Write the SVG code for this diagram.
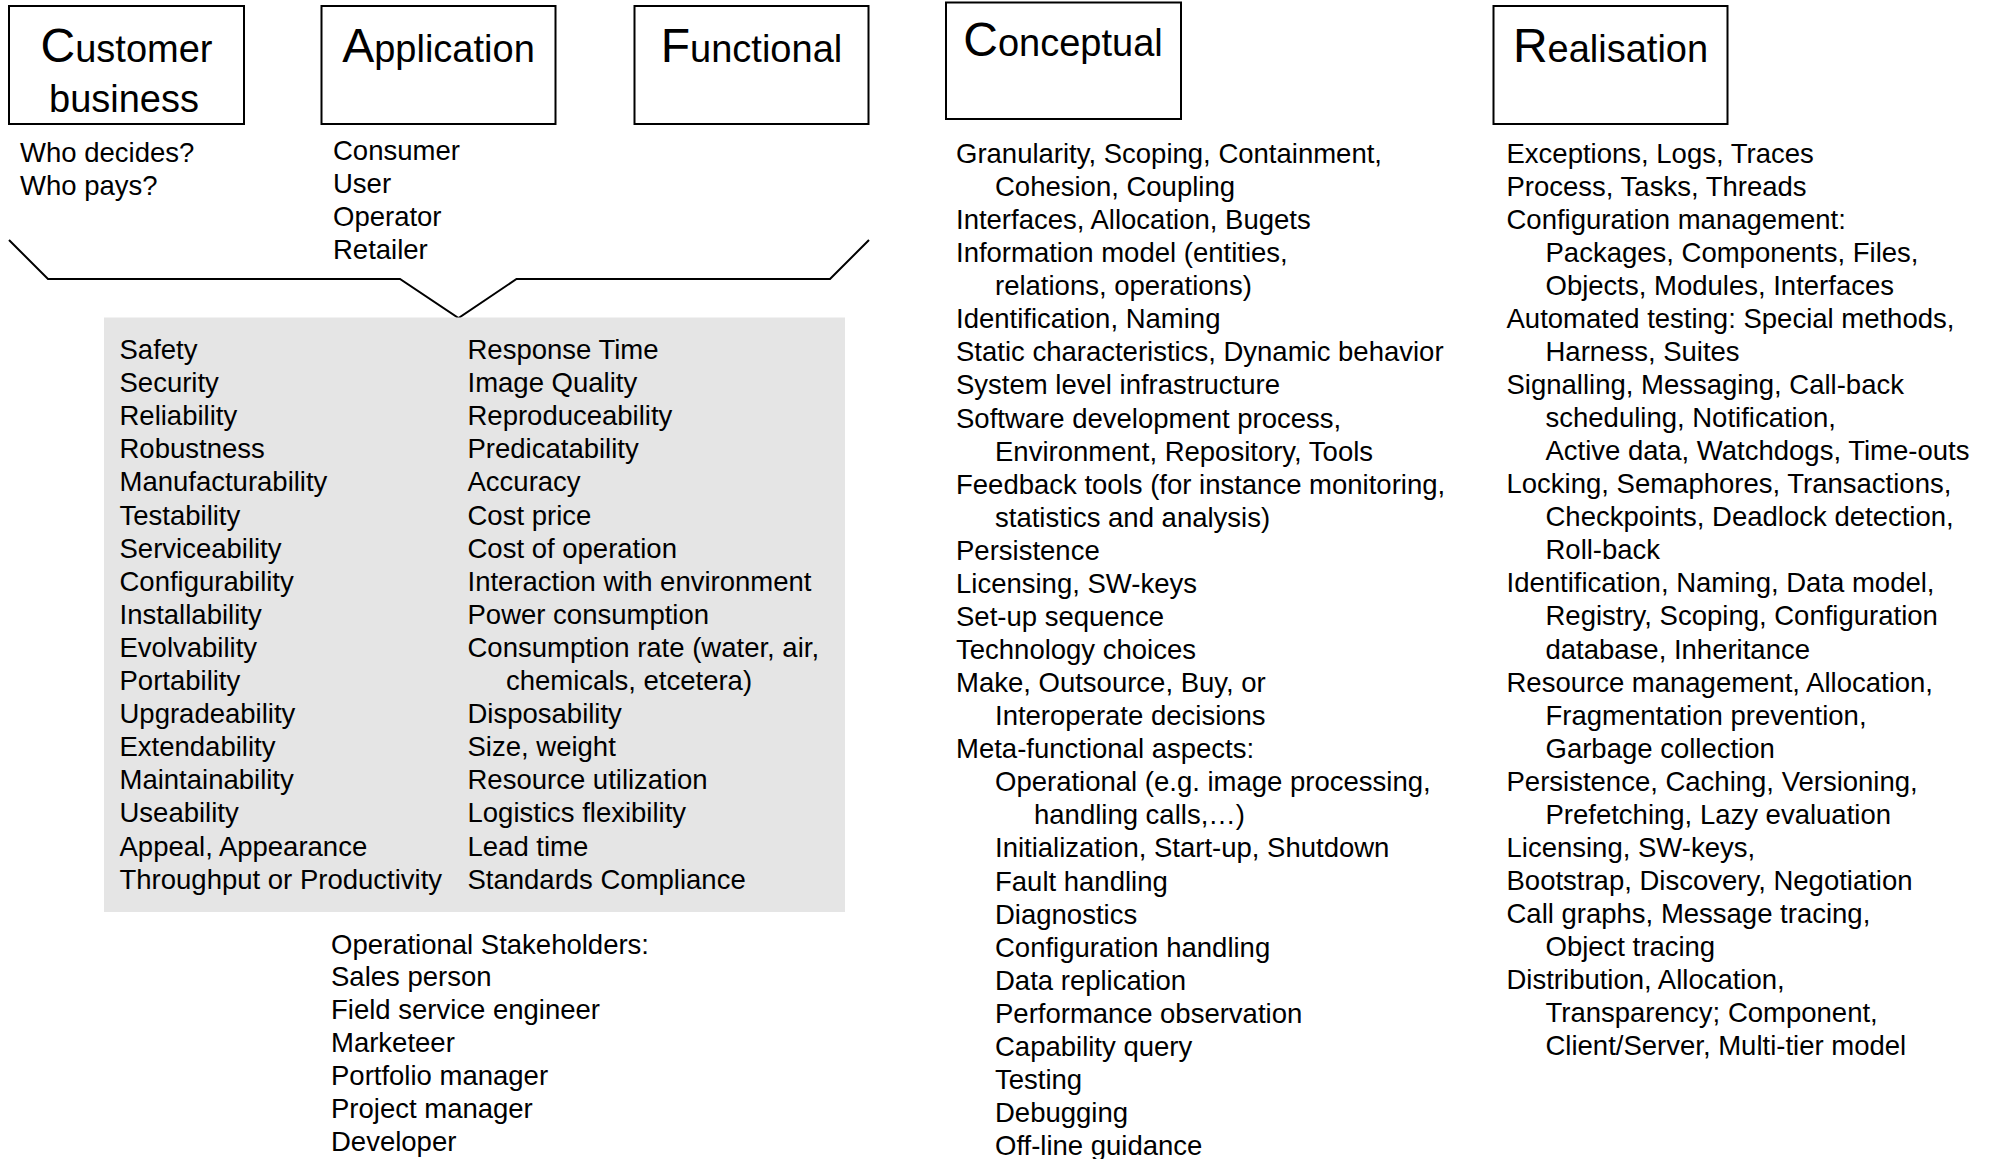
<svg xmlns="http://www.w3.org/2000/svg" width="1991" height="1159" viewBox="0 0 1991 1159">
<style>
.box{fill:#fff;stroke:#000;stroke-width:2}
.title{font-family:"Liberation Sans",Arial,sans-serif;font-size:38px;fill:#000;text-anchor:middle}
.big{font-size:48px}
.t{font-family:"Liberation Sans",Arial,sans-serif;font-size:27.5px;fill:#000}
.conn{fill:none;stroke:#000;stroke-width:2}
</style>
<rect width="1991" height="1159" fill="#fff"/>
<g id="connectors">
<polyline class="conn" points="9,240 48,279 400,279 458.5,318 516.5,279 830,279 869,240"/>
</g>
<g id="customer-business">
<rect class="box" x="9" y="6" width="235" height="118"/>
<text class="title" x="126.5" y="62.3"><tspan class="big">C</tspan>ustomer</text>
<text class="title" x="124" y="111.7">business</text>
<text class="t" x="20" y="161.5">Who decides?</text>
<text class="t" x="20" y="194.5">Who pays?</text>
</g>
<g id="application">
<rect class="box" x="321.5" y="6" width="234" height="118"/>
<text class="title" x="438.5" y="62.3"><tspan class="big">A</tspan>pplication</text>
<text class="t" x="333" y="160">Consumer</text>
<text class="t" x="333" y="193">User</text>
<text class="t" x="333" y="226">Operator</text>
<text class="t" x="333" y="259">Retailer</text>
</g>
<g id="functional">
<rect class="box" x="634.5" y="6" width="234" height="118"/>
<text class="title" x="751.5" y="62.3"><tspan class="big">F</tspan>unctional</text>
</g>
<g id="qualities">
<rect x="104" y="317.5" width="741" height="594.5" fill="#e5e5e5"/>
<text class="t" x="119.5" y="359">Safety</text>
<text class="t" x="119.5" y="392.1">Security</text>
<text class="t" x="119.5" y="425.2">Reliability</text>
<text class="t" x="119.5" y="458.3">Robustness</text>
<text class="t" x="119.5" y="491.4">Manufacturability</text>
<text class="t" x="119.5" y="524.5">Testability</text>
<text class="t" x="119.5" y="557.6">Serviceability</text>
<text class="t" x="119.5" y="590.7">Configurability</text>
<text class="t" x="119.5" y="623.8">Installability</text>
<text class="t" x="119.5" y="656.9">Evolvability</text>
<text class="t" x="119.5" y="690">Portability</text>
<text class="t" x="119.5" y="723.1">Upgradeability</text>
<text class="t" x="119.5" y="756.2">Extendability</text>
<text class="t" x="119.5" y="789.3">Maintainability</text>
<text class="t" x="119.5" y="822.4">Useability</text>
<text class="t" x="119.5" y="855.5">Appeal, Appearance</text>
<text class="t" x="119.5" y="888.6">Throughput or Productivity</text>
<text class="t" x="467.5" y="359">Response Time</text>
<text class="t" x="467.5" y="392.1">Image Quality</text>
<text class="t" x="467.5" y="425.2">Reproduceability</text>
<text class="t" x="467.5" y="458.3">Predicatability</text>
<text class="t" x="467.5" y="491.4">Accuracy</text>
<text class="t" x="467.5" y="524.5">Cost price</text>
<text class="t" x="467.5" y="557.6">Cost of operation</text>
<text class="t" x="467.5" y="590.7">Interaction with environment</text>
<text class="t" x="467.5" y="623.8">Power consumption</text>
<text class="t" x="467.5" y="656.9">Consumption rate (water, air,</text>
<text class="t" x="506" y="690">chemicals, etcetera)</text>
<text class="t" x="467.5" y="723.1">Disposability</text>
<text class="t" x="467.5" y="756.2">Size, weight</text>
<text class="t" x="467.5" y="789.3">Resource utilization</text>
<text class="t" x="467.5" y="822.4">Logistics flexibility</text>
<text class="t" x="467.5" y="855.5">Lead time</text>
<text class="t" x="467.5" y="888.6">Standards Compliance</text>
</g>
<g id="operational-stakeholders">
<text class="t" x="331" y="953.5">Operational Stakeholders:</text>
<text class="t" x="331" y="986.4">Sales person</text>
<text class="t" x="331" y="1019.3">Field service engineer</text>
<text class="t" x="331" y="1052.2">Marketeer</text>
<text class="t" x="331" y="1085.1">Portfolio manager</text>
<text class="t" x="331" y="1118">Project manager</text>
<text class="t" x="331" y="1150.9">Developer</text>
</g>
<g id="conceptual">
<rect class="box" x="946" y="2.5" width="235" height="116.5"/>
<text class="title" x="1063" y="56"><tspan class="big">C</tspan>onceptual</text>
<text class="t" x="956" y="163">Granularity, Scoping, Containment,</text>
<text class="t" x="995" y="196.07">Cohesion, Coupling</text>
<text class="t" x="956" y="229.14">Interfaces, Allocation, Bugets</text>
<text class="t" x="956" y="262.21">Information model (entities,</text>
<text class="t" x="995" y="295.28">relations, operations)</text>
<text class="t" x="956" y="328.35">Identification, Naming</text>
<text class="t" x="956" y="361.42">Static characteristics, Dynamic behavior</text>
<text class="t" x="956" y="394.49">System level infrastructure</text>
<text class="t" x="956" y="427.56">Software development process,</text>
<text class="t" x="995" y="460.63">Environment, Repository, Tools</text>
<text class="t" x="956" y="493.7">Feedback tools (for instance monitoring,</text>
<text class="t" x="995" y="526.77">statistics and analysis)</text>
<text class="t" x="956" y="559.84">Persistence</text>
<text class="t" x="956" y="592.91">Licensing, SW-keys</text>
<text class="t" x="956" y="625.98">Set-up sequence</text>
<text class="t" x="956" y="659.05">Technology choices</text>
<text class="t" x="956" y="692.12">Make, Outsource, Buy, or</text>
<text class="t" x="995" y="725.19">Interoperate decisions</text>
<text class="t" x="956" y="758.26">Meta-functional aspects:</text>
<text class="t" x="995" y="791.33">Operational (e.g. image processing,</text>
<text class="t" x="1034" y="824.4">handling calls,…)</text>
<text class="t" x="995" y="857.47">Initialization, Start-up, Shutdown</text>
<text class="t" x="995" y="890.54">Fault handling</text>
<text class="t" x="995" y="923.61">Diagnostics</text>
<text class="t" x="995" y="956.68">Configuration handling</text>
<text class="t" x="995" y="989.75">Data replication</text>
<text class="t" x="995" y="1022.82">Performance observation</text>
<text class="t" x="995" y="1055.89">Capability query</text>
<text class="t" x="995" y="1088.96">Testing</text>
<text class="t" x="995" y="1122.03">Debugging</text>
<text class="t" x="995" y="1155.1">Off-line guidance</text>
</g>
<g id="realisation">
<rect class="box" x="1493.5" y="6" width="234" height="118"/>
<text class="title" x="1610.5" y="62.3"><tspan class="big">R</tspan>ealisation</text>
<text class="t" x="1506.5" y="162.5">Exceptions, Logs, Traces</text>
<text class="t" x="1506.5" y="195.57">Process, Tasks, Threads</text>
<text class="t" x="1506.5" y="228.64">Configuration management:</text>
<text class="t" x="1545.5" y="261.71">Packages, Components, Files,</text>
<text class="t" x="1545.5" y="294.78">Objects, Modules, Interfaces</text>
<text class="t" x="1506.5" y="327.85">Automated testing: Special methods,</text>
<text class="t" x="1545.5" y="360.92">Harness, Suites</text>
<text class="t" x="1506.5" y="393.99">Signalling, Messaging, Call-back</text>
<text class="t" x="1545.5" y="427.06">scheduling, Notification,</text>
<text class="t" x="1545.5" y="460.13">Active data, Watchdogs, Time-outs</text>
<text class="t" x="1506.5" y="493.2">Locking, Semaphores, Transactions,</text>
<text class="t" x="1545.5" y="526.27">Checkpoints, Deadlock detection,</text>
<text class="t" x="1545.5" y="559.34">Roll-back</text>
<text class="t" x="1506.5" y="592.41">Identification, Naming, Data model,</text>
<text class="t" x="1545.5" y="625.48">Registry, Scoping, Configuration</text>
<text class="t" x="1545.5" y="658.55">database, Inheritance</text>
<text class="t" x="1506.5" y="691.62">Resource management, Allocation,</text>
<text class="t" x="1545.5" y="724.69">Fragmentation prevention,</text>
<text class="t" x="1545.5" y="757.76">Garbage collection</text>
<text class="t" x="1506.5" y="790.83">Persistence, Caching, Versioning,</text>
<text class="t" x="1545.5" y="823.9">Prefetching, Lazy evaluation</text>
<text class="t" x="1506.5" y="856.97">Licensing, SW-keys,</text>
<text class="t" x="1506.5" y="890.04">Bootstrap, Discovery, Negotiation</text>
<text class="t" x="1506.5" y="923.11">Call graphs, Message tracing,</text>
<text class="t" x="1545.5" y="956.18">Object tracing</text>
<text class="t" x="1506.5" y="989.25">Distribution, Allocation,</text>
<text class="t" x="1545.5" y="1022.32">Transparency; Component,</text>
<text class="t" x="1545.5" y="1055.39">Client/Server, Multi-tier model</text>
</g>
</svg>
